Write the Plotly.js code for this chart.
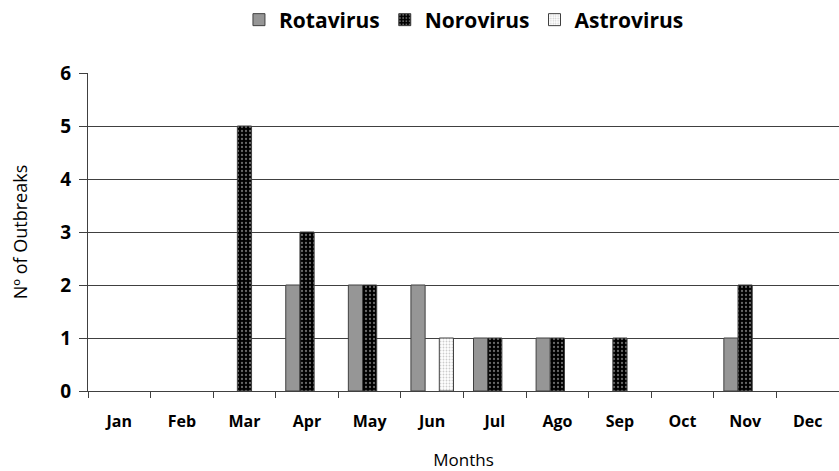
<!DOCTYPE html>
<html>
<head>
<meta charset="utf-8">
<script src="https://cdn.plot.ly/plotly-3.0.1.min.js"></script>
<style>html,body{margin:0;padding:0;background:#fff;}#chart{width:839px;height:471px;}</style>
</head>
<body>
<div id="chart"></div>
<script>
var months = ["Jan","Feb","Mar","Apr","May","Jun","Jul","Ago","Sep","Oct","Nov","Dec"];
var rotavirus = [0,0,0,2,2,2,1,1,0,0,1,0];
var norovirus = [0,0,5,3,2,0,1,1,1,0,2,0];
var astrovirus = [0,0,0,0,0,1,0,0,0,0,0,0];
var yTicks = [0,1,2,3,4,5,6];

// zero-count bars are not drawn in the reference
function hideZero(arr) { return arr.map(function (v) { return v === 0 ? null : v; }); }

var FONT = "Open Sans, DejaVu Sans, sans-serif";
var lineStyle = {color: "#404040", width: 1};

var traces = [
  {type: "bar", name: "Rotavirus", x: months, y: hideZero(rotavirus),
   marker: {color: "#969696", line: lineStyle}},
  {type: "bar", name: "Norovirus", x: months, y: hideZero(norovirus),
   marker: {color: "#000000", line: lineStyle,
            pattern: {shape: ".", bgcolor: "#000000", fgcolor: "#d0d0d0", size: 4, solidity: 0.25, fillmode: "overlay"}}},
  {type: "bar", name: "Astrovirus", x: months, y: hideZero(astrovirus),
   marker: {color: "#ffffff", line: lineStyle,
            pattern: {shape: ".", bgcolor: "#ffffff", fgcolor: "#999999", size: 3, solidity: 0.3, fillmode: "overlay"}}}
];

var layout = {
  width: 839, height: 471,
  margin: {l: 88, r: 0, t: 73, b: 80},
  paper_bgcolor: "#ffffff", plot_bgcolor: "#ffffff",
  barmode: "group", bargap: 0.32, bargroupgap: 0,
  font: {family: FONT, color: "#000"},
  showlegend: true,
  legend: {orientation: "h", x: 0.553, xanchor: "center", xref: "container",
           y: 1 - 20 / 471, yanchor: "middle", yref: "container",
           font: {family: FONT, size: 21, weight: "bold", color: "#000"}, traceorder: "normal",
           itemwidth: 30, tracegroupgap: 0},
  xaxis: {
    type: "category", range: [-0.5, 11.5], tickson: "boundaries",
    ticks: "outside", ticklen: 6, tickcolor: "#404040",
    showline: true, linecolor: "#404040", linewidth: 1, showgrid: false,
    ticklabelstandoff: 16,
    tickfont: {family: FONT, size: 16, weight: "bold", color: "#000"},
    title: {text: "Months", font: {family: FONT, size: 17, color: "#000"}, standoff: 24}
  },
  yaxis: {
    range: [0, 6], tickvals: yTicks, ticktext: yTicks.map(String),
    ticks: "outside", ticklen: 8, tickcolor: "#404040",
    showline: true, linecolor: "#404040", linewidth: 1,
    showgrid: true, gridcolor: "#404040", gridwidth: 1, zeroline: false,
    ticklabelstandoff: 4,
    tickfont: {family: FONT, size: 19, weight: "bold", color: "#000"},
    title: {text: "Nº of Outbreaks", font: {family: FONT, size: 18, color: "#000"}, standoff: 28}
  }
};

Plotly.newPlot("chart", traces, layout, {displayModeBar: false, staticPlot: true});
</script>
</body>
</html>
